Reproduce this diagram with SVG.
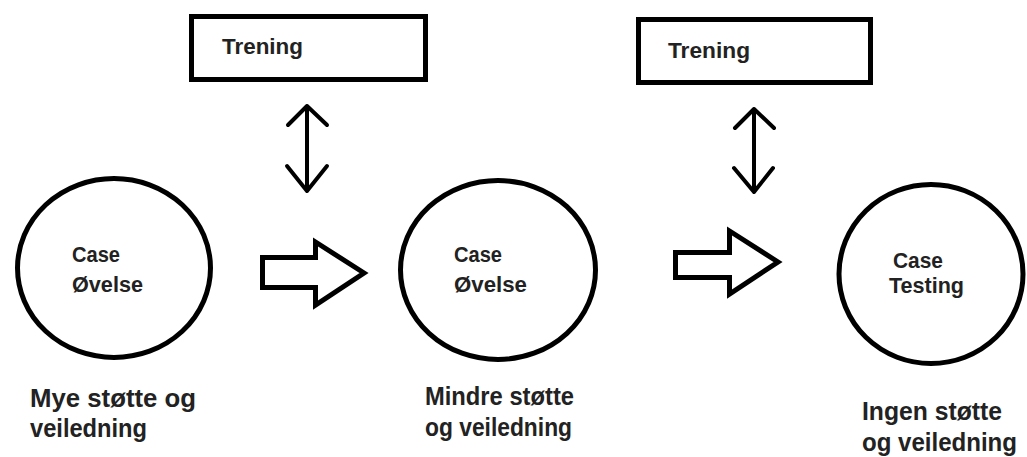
<svg xmlns="http://www.w3.org/2000/svg" width="1027" height="457" viewBox="0 0 1027 457">
<style>
.box{fill:#fff;stroke:#000;stroke-width:5}
.circ{fill:#fff;stroke:#000;stroke-width:5}
.blk{fill:#fff;stroke:#000;stroke-width:5;stroke-linejoin:miter}
.dbl{fill:none;stroke:#000;stroke-width:4;stroke-linecap:round;stroke-linejoin:round}
text{font-family:"Liberation Sans",Arial,sans-serif;font-weight:bold;fill:#222}
.t{font-size:22px}
.b{font-size:25px}
</style>
<rect width="1027" height="457" fill="#fff"/>
<g id="connectors">
<path class="dbl" d="M307,106 L307,191 M288,125 L307,106 L327,125 M287,166 L307,191 L327,166"/>
<path class="dbl" d="M754,109 L754,192 M735,128 L754,109 L774,128 M734,168 L754,192 L773,168"/>
<path class="blk" d="M262.5,257.5 L315.5,257.5 L315.5,242 L364,273 L315.5,305 L315.5,287.5 L262.5,287.5 Z"/>
<path class="blk" d="M675.5,252.5 L729.5,252.5 L729.5,231 L778,262 L729.5,294 L729.5,277.5 L675.5,277.5 Z"/>
</g>
<g id="trening1">
<rect class="box" x="191.5" y="16.5" width="234" height="63"/>
<text class="t" x="222" y="54" textLength="81" lengthAdjust="spacingAndGlyphs">Trening</text>
</g>
<g id="trening2">
<rect class="box" x="638.5" y="19.5" width="232" height="63"/>
<text class="t" x="668" y="58" textLength="82" lengthAdjust="spacingAndGlyphs">Trening</text>
</g>
<g id="case1">
<ellipse class="circ" cx="114" cy="268" rx="96.5" ry="89.5"/>
<text class="t" x="72" y="262" textLength="48" lengthAdjust="spacingAndGlyphs">Case</text>
<text class="t" x="72" y="292" textLength="71" lengthAdjust="spacingAndGlyphs">Øvelse</text>
</g>
<g id="case2">
<ellipse class="circ" cx="498" cy="270" rx="97.5" ry="89.5"/>
<text class="t" x="454" y="262" textLength="48" lengthAdjust="spacingAndGlyphs">Case</text>
<text class="t" x="454" y="292" textLength="73" lengthAdjust="spacingAndGlyphs">Øvelse</text>
</g>
<g id="case3">
<ellipse class="circ" cx="931" cy="274" rx="92" ry="89.5"/>
<text class="t" x="893" y="268" textLength="50" lengthAdjust="spacingAndGlyphs">Case</text>
<text class="t" x="889" y="293" textLength="75" lengthAdjust="spacingAndGlyphs">Testing</text>
</g>
<g id="label1">
<text class="b" x="30" y="407" textLength="166" lengthAdjust="spacingAndGlyphs">Mye støtte og</text>
<text class="b" x="30" y="437" textLength="117" lengthAdjust="spacingAndGlyphs">veiledning</text>
</g>
<g id="label2">
<text class="b" x="425" y="405" textLength="149" lengthAdjust="spacingAndGlyphs">Mindre støtte</text>
<text class="b" x="425" y="436" textLength="147" lengthAdjust="spacingAndGlyphs">og veiledning</text>
</g>
<g id="label3">
<text class="b" x="862" y="420" textLength="140" lengthAdjust="spacingAndGlyphs">Ingen støtte</text>
<text class="b" x="862" y="451" textLength="155" lengthAdjust="spacingAndGlyphs">og veiledning</text>
</g>
</svg>
